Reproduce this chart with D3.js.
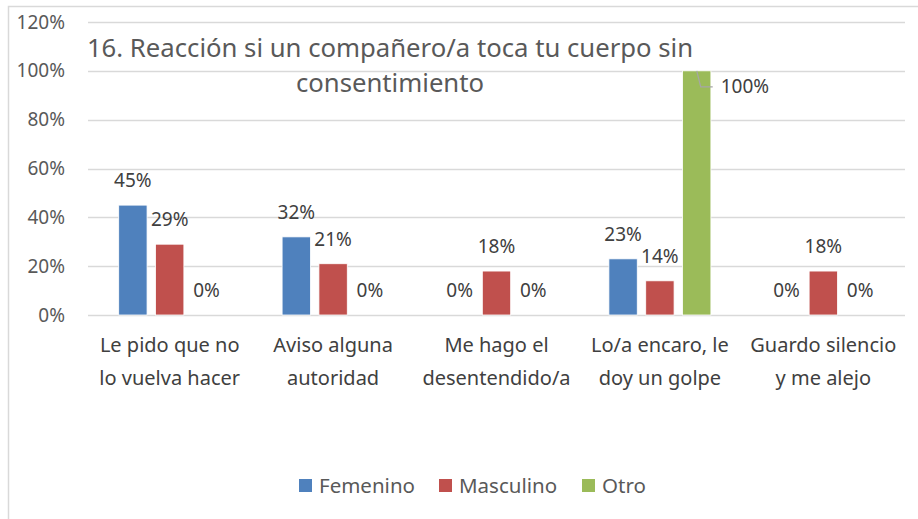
<!DOCTYPE html>
<html lang="es">
<head>
<meta charset="UTF-8">
<title>16. Reacción si un compañero/a toca tu cuerpo sin consentimiento</title>
<script src="https://d3js.org/d3.v7.min.js"></script>
<style>
    body { margin: 0; background: #fff; }
    svg { display: block; font-family: 'Noto Sans', 'Open Sans', sans-serif; }
</style>
</head>
<body>
<svg id="chart" width="918" height="519"></svg>
<script>
    // data
    const categories = [
        ["Le pido que no", "lo vuelva hacer"],
        ["Aviso alguna", "autoridad"],
        ["Me hago el", "desentendido/a"],
        ["Lo/a encaro, le", "doy un golpe"],
        ["Guardo silencio", "y me alejo"]
    ];
    const seriesNames = ["Femenino", "Masculino", "Otro"];
    const femenino = [0.45, 0.32, 0, 0.23, 0];
    const masculino = [0.29, 0.21, 0.18, 0.14, 0.18];
    const otro = [0, 0, 0, 1.00, 0];
    const yTicks = [0, 0.2, 0.4, 0.6, 0.8, 1.0, 1.2];
    const titleLines = ["16. Reacción si un compañero/a toca tu cuerpo sin", "consentimiento"];

    const colors = ["#4F81BD", "#C0504D", "#9BBB59"];
    const seriesValues = [femenino, masculino, otro];

    const svg = d3.select("#chart");
    const plot = { left: 88, right: 905, top: 22, bottom: 315 };

    // chart area frame
    svg.append("rect")
        .attr("x", 8.5).attr("y", 6.5)
        .attr("width", 930).attr("height", 530)
        .attr("fill", "none").attr("stroke", "#d9d9d9").attr("stroke-width", 1.5);

    const y = d3.scaleLinear().domain([0, 1.2]).range([plot.bottom, plot.top]);
    const x0 = d3.scaleBand().domain(d3.range(categories.length)).range([plot.left, plot.right]);
    const groupW = 102;
    const x1 = d3.scaleBand().domain(d3.range(seriesNames.length))
        .range([(x0.bandwidth() - groupW) / 2, (x0.bandwidth() + groupW) / 2])
        .paddingInner(0.23);

    // gridlines
    svg.append("g").selectAll("line").data(yTicks).join("line")
        .attr("x1", plot.left).attr("x2", plot.right)
        .attr("y1", d => Math.round(y(d)) + 0.5).attr("y2", d => Math.round(y(d)) + 0.5)
        .attr("stroke", "#d9d9d9").attr("stroke-width", 1.5);

    // y axis labels
    svg.append("g").selectAll("text").data(yTicks).join("text")
        .attr("x", 65).attr("y", d => y(d))
        .attr("dy", "0.35em")
        .attr("text-anchor", "end")
        .attr("fill", "#595959").attr("font-size", 19)
        .text(d => d3.format(".0%")(d));

    // title
    svg.append("text")
        .attr("text-anchor", "middle").attr("fill", "#595959").attr("font-size", 25.7)
        .selectAll("tspan").data(titleLines).join("tspan")
        .attr("x", 390).attr("y", (d, i) => 57 + i * 35)
        .text(d => d);

    // bars
    const groups = svg.append("g").selectAll("g").data(categories).join("g")
        .attr("transform", (d, i) => `translate(${x0(i)},0)`);

    const cells = groups.selectAll("g.cell")
        .data((d, i) => seriesValues.map((vals, s) => ({ s, v: vals[i] })))
        .join("g").attr("class", "cell");

    cells.append("rect")
        .attr("x", d => x1(d.s))
        .attr("y", d => y(d.v))
        .attr("width", x1.bandwidth())
        .attr("height", d => y(0) - y(d.v))
        .attr("fill", d => colors[d.s])
        .attr("stroke", "#fff").attr("stroke-width", 0.8);

    // data labels; the 100% label is moved aside with a leader line
    cells.each(function (d) {
        const g = d3.select(this);
        const cx = x1(d.s) + x1.bandwidth() / 2;
        if (d.v >= 1) {
            const top = y(d.v);
            g.append("polyline")
                .attr("points", `${cx},${top} ${cx + 4},${top + 16} ${cx + 16},${top + 16}`)
                .attr("fill", "none").attr("stroke", "#a6a6a6").attr("stroke-width", 1.2);
            g.append("text")
                .attr("x", cx + 24).attr("y", top + 16).attr("dy", "0.35em")
                .attr("fill", "#404040").attr("font-size", 19)
                .text(d3.format(".0%")(d.v));
        } else {
            g.append("text")
                .attr("x", cx).attr("y", y(d.v) - 18)
                .attr("text-anchor", "middle")
                .attr("fill", "#404040").attr("font-size", 19)
                .text(d3.format(".0%")(d.v));
        }
    });

    // category labels
    svg.append("g").selectAll("text").data(categories).join("text")
        .attr("text-anchor", "middle")
        .attr("fill", "#404040").attr("font-size", 20)
        .selectAll("tspan").data((d, i) => d.map(t => ({ t, i }))).join("tspan")
        .attr("x", d => x0(d.i) + x0.bandwidth() / 2)
        .attr("y", (d, j) => 352 + j * 33)
        .text(d => d.t);

    // legend
    const legendX = [299, 439, 582];
    const legend = svg.append("g").selectAll("g").data(seriesNames).join("g")
        .attr("transform", (d, i) => `translate(${legendX[i]},479)`);
    legend.append("rect").attr("width", 13).attr("height", 13)
        .attr("fill", (d, i) => colors[i]);
    legend.append("text").attr("x", 20).attr("y", 7).attr("dy", "0.35em")
        .attr("fill", "#595959").attr("font-size", 20.5)
        .text(d => d);
</script>
</body>
</html>
